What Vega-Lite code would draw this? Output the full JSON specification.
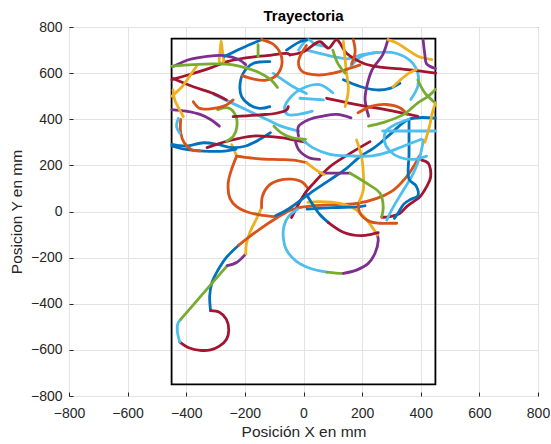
{
"$schema": "https://vega.github.io/schema/vega-lite/v6.json",
"width": 469, "height": 369,
"autosize": {"type": "none"},
"padding": {"left": 69, "top": 27, "right": 13, "bottom": 48},
"background": "white",
"title": {"text": "Trayectoria", "fontSize": 15, "fontWeight": "bold", "font": "Liberation Sans", "color": "#000000", "offset": -4},
"config": {
  "view": {"stroke": "#262626", "strokeWidth": 1},
  "axis": {"grid": true, "gridColor": "#e3e3e3", "domain": false, "tickColor": "#262626", "tickSize": -4,
    "labelFont": "Liberation Sans", "labelFontSize": 14, "labelColor": "#262626", "labelFlush": false, "labelOverlap": false,
    "titleFont": "Liberation Sans", "titleFontSize": 15.5, "titleFontWeight": "normal", "titleColor": "#262626"},
  "axisX": {"labelPadding": 14, "titlePadding": 4},
  "axisY": {"labelPadding": 11, "titlePadding": 6}
},
"layer": [
{
 "data": {"values": [{"x1": -450, "x2": 450, "y1": -750, "y2": 750}]},
 "mark": {"type": "rect", "fillOpacity": 0, "stroke": "#000000", "strokeWidth": 1.8},
 "encoding": {
  "x": {"field": "x1", "type": "quantitative", "scale": {"domain": [-800, 800], "nice": false},
        "axis": {"values": [-800,-600,-400,-200,0,200,400,600,800], "title": "Posición X en mm"}},
  "x2": {"field": "x2"},
  "y": {"field": "y1", "type": "quantitative", "scale": {"domain": [-800, 800], "nice": false},
        "axis": {"values": [-800,-600,-400,-200,0,200,400,600,800], "title": "Posicion Y en mm"}},
  "y2": {"field": "y2"}
 }
},
{
 "data": {"values": [
{"s":1,"k":1,"i":0,"x":-317,"y":-430},{"s":1,"k":1,"i":1,"x":-320,"y":-365},{"s":1,"k":1,"i":2,"x":-312,"y":-307},{"s":1,"k":1,"i":3,"x":-293,"y":-257},{"s":1,"k":1,"i":4,"x":-263,"y":-199},{"s":1,"k":1,"i":5,"x":-221,"y":-146},
{"s":2,"k":7,"i":0,"x":-317,"y":-430},{"s":2,"k":7,"i":1,"x":-287,"y":-437},{"s":2,"k":7,"i":2,"x":-263,"y":-468},{"s":2,"k":7,"i":3,"x":-255,"y":-516},{"s":2,"k":7,"i":4,"x":-263,"y":-555},{"s":2,"k":7,"i":5,"x":-287,"y":-584},{"s":2,"k":7,"i":6,"x":-317,"y":-600},{"s":2,"k":7,"i":7,"x":-353,"y":-602},{"s":2,"k":7,"i":8,"x":-389,"y":-592},{"s":2,"k":7,"i":9,"x":-422,"y":-566},
{"s":3,"k":6,"i":0,"x":-422,"y":-566},{"s":3,"k":6,"i":1,"x":-430,"y":-523},{"s":3,"k":6,"i":2,"x":-429,"y":-487},{"s":3,"k":6,"i":3,"x":-419,"y":-468},
{"s":4,"k":5,"i":0,"x":-419,"y":-468},{"s":4,"k":5,"i":1,"x":-340,"y":-352},{"s":4,"k":5,"i":2,"x":-260,"y":-235},
{"s":5,"k":4,"i":0,"x":-260,"y":-235},{"s":5,"k":4,"i":1,"x":-227,"y":-220},{"s":5,"k":4,"i":2,"x":-197,"y":-184},
{"s":6,"k":3,"i":0,"x":-197,"y":-184},{"s":6,"k":3,"i":1,"x":-195,"y":-141},{"s":6,"k":3,"i":2,"x":-183,"y":-91},{"s":6,"k":3,"i":3,"x":-161,"y":-33},{"s":6,"k":3,"i":4,"x":-143,"y":17},
{"s":7,"k":2,"i":0,"x":-143,"y":17},{"s":7,"k":2,"i":1,"x":-140,"y":67},{"s":7,"k":2,"i":2,"x":-120,"y":111},{"s":7,"k":2,"i":3,"x":-84,"y":135},{"s":7,"k":2,"i":4,"x":-41,"y":140},{"s":7,"k":2,"i":5,"x":-5,"y":128},{"s":7,"k":2,"i":6,"x":13,"y":104},
{"s":8,"k":7,"i":0,"x":-41,"y":-26},{"s":8,"k":7,"i":1,"x":5,"y":79},{"s":8,"k":7,"i":2,"x":34,"y":122},{"s":8,"k":7,"i":3,"x":90,"y":194},{"s":8,"k":7,"i":4,"x":159,"y":252},{"s":8,"k":7,"i":5,"x":227,"y":303},
{"s":9,"k":2,"i":0,"x":-221,"y":-146},{"s":9,"k":2,"i":1,"x":-149,"y":-76},{"s":9,"k":2,"i":2,"x":-89,"y":-26},{"s":9,"k":2,"i":3,"x":-46,"y":5},{"s":9,"k":2,"i":4,"x":0,"y":20},{"s":9,"k":2,"i":5,"x":68,"y":28},{"s":9,"k":2,"i":6,"x":181,"y":35},{"s":9,"k":2,"i":7,"x":250,"y":57},{"s":9,"k":2,"i":8,"x":307,"y":93},{"s":9,"k":2,"i":9,"x":352,"y":151},{"s":9,"k":2,"i":10,"x":375,"y":194},{"s":9,"k":2,"i":11,"x":395,"y":240},
{"s":10,"k":1,"i":0,"x":-97,"y":-20},{"s":10,"k":1,"i":1,"x":-46,"y":15},{"s":10,"k":1,"i":2,"x":22,"y":79},{"s":10,"k":1,"i":3,"x":90,"y":137},{"s":10,"k":1,"i":4,"x":147,"y":187},{"s":10,"k":1,"i":5,"x":193,"y":238},{"s":10,"k":1,"i":6,"x":238,"y":274},{"s":10,"k":1,"i":7,"x":261,"y":296},{"s":10,"k":1,"i":8,"x":300,"y":340},{"s":10,"k":1,"i":9,"x":360,"y":400},{"s":10,"k":1,"i":10,"x":450,"y":405},
{"s":11,"k":6,"i":0,"x":-20,"y":10},{"s":11,"k":6,"i":1,"x":-50,"y":-20},{"s":11,"k":6,"i":2,"x":-66,"y":-60},{"s":11,"k":6,"i":3,"x":-69,"y":-109},{"s":11,"k":6,"i":4,"x":-58,"y":-167},{"s":11,"k":6,"i":5,"x":-23,"y":-217},{"s":11,"k":6,"i":6,"x":22,"y":-246},{"s":11,"k":6,"i":7,"x":79,"y":-263},
{"s":12,"k":5,"i":0,"x":79,"y":-263},{"s":12,"k":5,"i":1,"x":110,"y":-267},{"s":12,"k":5,"i":2,"x":136,"y":-268},
{"s":13,"k":4,"i":0,"x":136,"y":-268},{"s":13,"k":4,"i":1,"x":181,"y":-254},{"s":13,"k":4,"i":2,"x":221,"y":-225},{"s":13,"k":4,"i":3,"x":244,"y":-181},{"s":13,"k":4,"i":4,"x":255,"y":-124},{"s":13,"k":4,"i":5,"x":252,"y":-102},
{"s":14,"k":3,"i":0,"x":15,"y":40},{"s":14,"k":3,"i":1,"x":56,"y":43},{"s":14,"k":3,"i":2,"x":125,"y":35},{"s":14,"k":3,"i":3,"x":181,"y":6},{"s":14,"k":3,"i":4,"x":216,"y":-37},{"s":14,"k":3,"i":5,"x":252,"y":-102},
{"s":15,"k":1,"i":0,"x":10,"y":75},{"s":15,"k":1,"i":1,"x":31,"y":31},{"s":15,"k":1,"i":2,"x":55,"y":-12},{"s":15,"k":1,"i":3,"x":85,"y":-48},
{"s":16,"k":7,"i":0,"x":85,"y":-48},{"s":16,"k":7,"i":1,"x":138,"y":-91},{"s":16,"k":7,"i":2,"x":198,"y":-105},{"s":16,"k":7,"i":3,"x":234,"y":-98},{"s":16,"k":7,"i":4,"x":255,"y":-92},
{"s":17,"k":1,"i":0,"x":12,"y":10},{"s":17,"k":1,"i":1,"x":100,"y":17},{"s":17,"k":1,"i":2,"x":193,"y":21},{"s":17,"k":1,"i":3,"x":210,"y":25},
{"s":18,"k":3,"i":0,"x":181,"y":310},{"s":18,"k":3,"i":1,"x":198,"y":238},{"s":18,"k":3,"i":2,"x":204,"y":166},{"s":18,"k":3,"i":3,"x":204,"y":93},{"s":18,"k":3,"i":4,"x":187,"y":35},
{"s":19,"k":2,"i":0,"x":187,"y":35},{"s":19,"k":2,"i":1,"x":193,"y":-8},{"s":19,"k":2,"i":2,"x":227,"y":-44},{"s":19,"k":2,"i":3,"x":261,"y":-51},{"s":19,"k":2,"i":4,"x":295,"y":-51},{"s":19,"k":2,"i":5,"x":318,"y":-51},
{"s":20,"k":7,"i":0,"x":403,"y":223},{"s":20,"k":7,"i":1,"x":426,"y":209},{"s":20,"k":7,"i":2,"x":434,"y":151},{"s":20,"k":7,"i":3,"x":420,"y":108},{"s":20,"k":7,"i":4,"x":397,"y":64},{"s":20,"k":7,"i":5,"x":375,"y":43},{"s":20,"k":7,"i":6,"x":352,"y":21},{"s":20,"k":7,"i":7,"x":329,"y":-8},{"s":20,"k":7,"i":8,"x":295,"y":-22},{"s":20,"k":7,"i":9,"x":267,"y":-25},
{"s":21,"k":6,"i":0,"x":409,"y":310},{"s":21,"k":6,"i":1,"x":397,"y":238},{"s":21,"k":6,"i":2,"x":375,"y":166},{"s":21,"k":6,"i":3,"x":341,"y":93},{"s":21,"k":6,"i":4,"x":307,"y":21},{"s":21,"k":6,"i":5,"x":284,"y":-37},
{"s":22,"k":4,"i":0,"x":56,"y":166},{"s":22,"k":4,"i":1,"x":159,"y":166},
{"s":23,"k":5,"i":0,"x":159,"y":166},{"s":23,"k":5,"i":1,"x":216,"y":122},{"s":23,"k":5,"i":2,"x":261,"y":79},{"s":23,"k":5,"i":3,"x":272,"y":21},{"s":23,"k":5,"i":4,"x":267,"y":-22},
{"s":24,"k":1,"i":0,"x":360,"y":399},{"s":24,"k":1,"i":1,"x":360,"y":250},{"s":24,"k":1,"i":2,"x":360,"y":140},{"s":24,"k":1,"i":3,"x":384,"y":111},{"s":24,"k":1,"i":4,"x":390,"y":68},{"s":24,"k":1,"i":5,"x":366,"y":53},{"s":24,"k":1,"i":6,"x":342,"y":32},{"s":24,"k":1,"i":7,"x":324,"y":-4},{"s":24,"k":1,"i":8,"x":310,"y":-30},
{"s":25,"k":3,"i":0,"x":-245,"y":290},{"s":25,"k":3,"i":1,"x":-235,"y":262},{"s":25,"k":3,"i":2,"x":-228,"y":240},
{"s":26,"k":2,"i":0,"x":-228,"y":240},{"s":26,"k":2,"i":1,"x":-246,"y":180},{"s":26,"k":2,"i":2,"x":-257,"y":122},{"s":26,"k":2,"i":3,"x":-251,"y":57},{"s":26,"k":2,"i":4,"x":-228,"y":21},{"s":26,"k":2,"i":5,"x":-194,"y":-1},{"s":26,"k":2,"i":6,"x":-149,"y":-15},{"s":26,"k":2,"i":7,"x":-103,"y":-22},
{"s":27,"k":2,"i":0,"x":-228,"y":240},{"s":27,"k":2,"i":1,"x":-180,"y":232},{"s":27,"k":2,"i":2,"x":-149,"y":228},{"s":27,"k":2,"i":3,"x":-80,"y":225},{"s":27,"k":2,"i":4,"x":-35,"y":223},{"s":27,"k":2,"i":5,"x":10,"y":212},
{"s":28,"k":3,"i":0,"x":10,"y":212},{"s":28,"k":3,"i":1,"x":48,"y":176},{"s":28,"k":3,"i":2,"x":70,"y":160},
{"s":29,"k":1,"i":0,"x":-449,"y":291},{"s":29,"k":1,"i":1,"x":-401,"y":284},{"s":29,"k":1,"i":2,"x":-341,"y":298},{"s":29,"k":1,"i":3,"x":-293,"y":291},{"s":29,"k":1,"i":4,"x":-245,"y":277},{"s":29,"k":1,"i":5,"x":-197,"y":284},{"s":29,"k":1,"i":6,"x":-149,"y":313},{"s":29,"k":1,"i":7,"x":-113,"y":342},
{"s":30,"k":1,"i":0,"x":-449,"y":284},{"s":30,"k":1,"i":1,"x":-401,"y":269},{"s":30,"k":1,"i":2,"x":-341,"y":262},{"s":30,"k":1,"i":3,"x":-269,"y":262},{"s":30,"k":1,"i":4,"x":-230,"y":270},
{"s":31,"k":7,"i":0,"x":-329,"y":277},{"s":31,"k":7,"i":1,"x":-257,"y":306},{"s":31,"k":7,"i":2,"x":-173,"y":327},{"s":31,"k":7,"i":3,"x":-77,"y":320},{"s":31,"k":7,"i":4,"x":-17,"y":306},{"s":31,"k":7,"i":5,"x":7,"y":301},
{"s":32,"k":2,"i":0,"x":-419,"y":399},{"s":32,"k":2,"i":1,"x":-419,"y":342},{"s":32,"k":2,"i":2,"x":-407,"y":298},{"s":32,"k":2,"i":3,"x":-383,"y":269},{"s":32,"k":2,"i":4,"x":-353,"y":262},
{"s":33,"k":5,"i":0,"x":-293,"y":442},{"s":33,"k":5,"i":1,"x":-257,"y":449},{"s":33,"k":5,"i":2,"x":-233,"y":420},{"s":33,"k":5,"i":3,"x":-227,"y":370},{"s":33,"k":5,"i":4,"x":-239,"y":327},{"s":33,"k":5,"i":5,"x":-263,"y":305},
{"s":34,"k":4,"i":0,"x":-449,"y":442},{"s":34,"k":4,"i":1,"x":-401,"y":435},{"s":34,"k":4,"i":2,"x":-353,"y":421},{"s":34,"k":4,"i":3,"x":-317,"y":399},{"s":34,"k":4,"i":4,"x":-287,"y":370},
{"s":35,"k":6,"i":0,"x":-305,"y":507},{"s":35,"k":6,"i":1,"x":-245,"y":471},{"s":35,"k":6,"i":2,"x":-197,"y":442},{"s":35,"k":6,"i":3,"x":-125,"y":399},{"s":35,"k":6,"i":4,"x":-77,"y":370},{"s":35,"k":6,"i":5,"x":-17,"y":349},
{"s":36,"k":2,"i":0,"x":-376,"y":476},{"s":36,"k":2,"i":1,"x":-354,"y":447},{"s":36,"k":2,"i":2,"x":-308,"y":447},{"s":36,"k":2,"i":3,"x":-263,"y":462},{"s":36,"k":2,"i":4,"x":-240,"y":484},
{"s":37,"k":4,"i":0,"x":-17,"y":327},{"s":37,"k":4,"i":1,"x":-17,"y":369},{"s":37,"k":4,"i":2,"x":19,"y":399},{"s":37,"k":4,"i":3,"x":67,"y":414},{"s":37,"k":4,"i":4,"x":114,"y":421},{"s":37,"k":4,"i":5,"x":162,"y":406},
{"s":38,"k":4,"i":0,"x":-29,"y":313},{"s":38,"k":4,"i":1,"x":-17,"y":269},{"s":38,"k":4,"i":2,"x":19,"y":233},{"s":38,"k":4,"i":3,"x":55,"y":226},
{"s":39,"k":6,"i":0,"x":-5,"y":313},{"s":39,"k":6,"i":1,"x":31,"y":277},{"s":39,"k":6,"i":2,"x":90,"y":248},{"s":39,"k":6,"i":3,"x":162,"y":241},{"s":39,"k":6,"i":4,"x":234,"y":241},{"s":39,"k":6,"i":5,"x":282,"y":255},{"s":39,"k":6,"i":6,"x":342,"y":284},{"s":39,"k":6,"i":7,"x":402,"y":313},
{"s":40,"k":5,"i":0,"x":-101,"y":370},{"s":40,"k":5,"i":1,"x":-77,"y":342},{"s":40,"k":5,"i":2,"x":-41,"y":320},{"s":40,"k":5,"i":3,"x":7,"y":313},
{"s":41,"k":6,"i":0,"x":100,"y":515},{"s":41,"k":6,"i":1,"x":55,"y":550},{"s":41,"k":6,"i":2,"x":7,"y":540},{"s":41,"k":6,"i":3,"x":-41,"y":500},{"s":41,"k":6,"i":4,"x":-65,"y":445},{"s":41,"k":6,"i":5,"x":-53,"y":420},{"s":41,"k":6,"i":6,"x":-17,"y":421},{"s":41,"k":6,"i":7,"x":30,"y":435},
{"s":42,"k":6,"i":0,"x":-17,"y":700},{"s":42,"k":6,"i":1,"x":0,"y":730},{"s":42,"k":6,"i":2,"x":17,"y":745},{"s":42,"k":6,"i":3,"x":40,"y":725},{"s":42,"k":6,"i":4,"x":78,"y":716},
{"s":43,"k":6,"i":0,"x":11,"y":700},{"s":43,"k":6,"i":1,"x":102,"y":672},{"s":43,"k":6,"i":2,"x":150,"y":662},{"s":43,"k":6,"i":3,"x":200,"y":680},{"s":43,"k":6,"i":4,"x":258,"y":690},
{"s":44,"k":6,"i":0,"x":162,"y":630},{"s":44,"k":6,"i":1,"x":198,"y":673},{"s":44,"k":6,"i":2,"x":258,"y":690},{"s":44,"k":6,"i":3,"x":318,"y":685},{"s":44,"k":6,"i":4,"x":366,"y":651},{"s":44,"k":6,"i":5,"x":390,"y":601},{"s":44,"k":6,"i":6,"x":390,"y":543},{"s":44,"k":6,"i":7,"x":366,"y":486},
{"s":45,"k":1,"i":0,"x":136,"y":571},{"s":45,"k":1,"i":1,"x":193,"y":542},{"s":45,"k":1,"i":2,"x":250,"y":527},{"s":45,"k":1,"i":3,"x":295,"y":534},{"s":45,"k":1,"i":4,"x":329,"y":556},
{"s":46,"k":4,"i":0,"x":288,"y":745},{"s":46,"k":4,"i":1,"x":270,"y":679},{"s":46,"k":4,"i":2,"x":234,"y":614},{"s":46,"k":4,"i":3,"x":216,"y":542},{"s":46,"k":4,"i":4,"x":210,"y":485},{"s":46,"k":4,"i":5,"x":222,"y":413},
{"s":47,"k":3,"i":0,"x":288,"y":745},{"s":47,"k":3,"i":1,"x":318,"y":731},{"s":47,"k":3,"i":2,"x":354,"y":702},{"s":47,"k":3,"i":3,"x":390,"y":673},{"s":47,"k":3,"i":4,"x":438,"y":659},
{"s":48,"k":4,"i":0,"x":408,"y":745},{"s":48,"k":4,"i":1,"x":414,"y":680},{"s":48,"k":4,"i":2,"x":420,"y":640},{"s":48,"k":4,"i":3,"x":450,"y":620},
{"s":49,"k":7,"i":0,"x":-46,"y":679},{"s":49,"k":7,"i":1,"x":0,"y":693},{"s":49,"k":7,"i":2,"x":56,"y":736},{"s":49,"k":7,"i":3,"x":85,"y":708},{"s":49,"k":7,"i":4,"x":113,"y":744},{"s":49,"k":7,"i":5,"x":147,"y":686},{"s":49,"k":7,"i":6,"x":204,"y":643},{"s":49,"k":7,"i":7,"x":250,"y":628},{"s":49,"k":7,"i":8,"x":363,"y":614},{"s":49,"k":7,"i":9,"x":451,"y":600},
{"s":50,"k":7,"i":0,"x":-449,"y":572},{"s":50,"k":7,"i":1,"x":-389,"y":594},{"s":50,"k":7,"i":2,"x":-317,"y":623},{"s":50,"k":7,"i":3,"x":-257,"y":651},{"s":50,"k":7,"i":4,"x":-197,"y":666},{"s":50,"k":7,"i":5,"x":-125,"y":676},{"s":50,"k":7,"i":6,"x":-53,"y":685},{"s":50,"k":7,"i":7,"x":-46,"y":679},
{"s":51,"k":7,"i":0,"x":-445,"y":577},{"s":51,"k":7,"i":1,"x":-376,"y":541},{"s":51,"k":7,"i":2,"x":-308,"y":512},{"s":51,"k":7,"i":3,"x":-263,"y":484},
{"s":52,"k":7,"i":0,"x":79,"y":491},{"s":52,"k":7,"i":1,"x":159,"y":469},{"s":52,"k":7,"i":2,"x":215,"y":455},{"s":52,"k":7,"i":3,"x":284,"y":441},{"s":52,"k":7,"i":4,"x":390,"y":413},
{"s":53,"k":2,"i":0,"x":186,"y":428},{"s":53,"k":2,"i":1,"x":234,"y":457},{"s":53,"k":2,"i":2,"x":282,"y":464},{"s":53,"k":2,"i":3,"x":330,"y":449},{"s":53,"k":2,"i":4,"x":354,"y":421},
{"s":54,"k":5,"i":0,"x":222,"y":370},{"s":54,"k":5,"i":1,"x":270,"y":385},{"s":54,"k":5,"i":2,"x":342,"y":421},{"s":54,"k":5,"i":3,"x":390,"y":471},{"s":54,"k":5,"i":4,"x":426,"y":500},{"s":54,"k":5,"i":5,"x":450,"y":529},
{"s":55,"k":6,"i":0,"x":270,"y":349},{"s":55,"k":6,"i":1,"x":450,"y":349},
{"s":56,"k":6,"i":0,"x":360,"y":400},{"s":56,"k":6,"i":1,"x":318,"y":380},{"s":56,"k":6,"i":2,"x":282,"y":349},{"s":56,"k":6,"i":3,"x":276,"y":306},{"s":56,"k":6,"i":4,"x":294,"y":263},{"s":56,"k":6,"i":5,"x":330,"y":234},{"s":56,"k":6,"i":6,"x":378,"y":226},{"s":56,"k":6,"i":7,"x":420,"y":240},
{"s":57,"k":3,"i":0,"x":-449,"y":500},{"s":57,"k":3,"i":1,"x":-413,"y":543},{"s":57,"k":3,"i":2,"x":-389,"y":586},{"s":57,"k":3,"i":3,"x":-365,"y":630},
{"s":58,"k":7,"i":0,"x":-240,"y":411},{"s":58,"k":7,"i":1,"x":-149,"y":419},{"s":58,"k":7,"i":2,"x":-92,"y":426},{"s":58,"k":7,"i":3,"x":-58,"y":440},{"s":58,"k":7,"i":4,"x":-52,"y":455},
{"s":59,"k":1,"i":0,"x":-115,"y":650},{"s":59,"k":1,"i":1,"x":-172,"y":642},{"s":59,"k":1,"i":2,"x":-206,"y":599},{"s":59,"k":1,"i":3,"x":-217,"y":541},{"s":59,"k":1,"i":4,"x":-211,"y":498},{"s":59,"k":1,"i":5,"x":-183,"y":462},{"s":59,"k":1,"i":6,"x":-149,"y":447},{"s":59,"k":1,"i":7,"x":-115,"y":455},
{"s":60,"k":1,"i":0,"x":-58,"y":700},{"s":60,"k":1,"i":1,"x":-12,"y":736},{"s":60,"k":1,"i":2,"x":11,"y":744},
{"s":61,"k":6,"i":0,"x":-103,"y":599},{"s":61,"k":6,"i":1,"x":-69,"y":570},{"s":61,"k":6,"i":2,"x":-35,"y":541},{"s":61,"k":6,"i":3,"x":10,"y":512},
{"s":62,"k":3,"i":0,"x":-281,"y":738},{"s":62,"k":3,"i":1,"x":-285,"y":690},{"s":62,"k":3,"i":2,"x":-287,"y":650},{"s":62,"k":3,"i":3,"x":-280,"y":642},{"s":62,"k":3,"i":4,"x":-273,"y":650},{"s":62,"k":3,"i":5,"x":-276,"y":690},{"s":62,"k":3,"i":6,"x":-281,"y":738},
{"s":63,"k":4,"i":0,"x":-443,"y":630},{"s":63,"k":4,"i":1,"x":-389,"y":659},{"s":63,"k":4,"i":2,"x":-329,"y":673},{"s":63,"k":4,"i":3,"x":-269,"y":676},{"s":63,"k":4,"i":4,"x":-221,"y":659},{"s":63,"k":4,"i":5,"x":-197,"y":637},
{"s":64,"k":1,"i":0,"x":-269,"y":673},{"s":64,"k":1,"i":1,"x":-221,"y":702},{"s":64,"k":1,"i":2,"x":-185,"y":723},{"s":64,"k":1,"i":3,"x":-143,"y":745},
{"s":65,"k":2,"i":0,"x":-143,"y":745},{"s":65,"k":2,"i":1,"x":-101,"y":723},{"s":65,"k":2,"i":2,"x":-77,"y":680},{"s":65,"k":2,"i":3,"x":-75,"y":630},{"s":65,"k":2,"i":4,"x":-95,"y":587},{"s":65,"k":2,"i":5,"x":-131,"y":569},{"s":65,"k":2,"i":6,"x":-173,"y":575},{"s":65,"k":2,"i":7,"x":-209,"y":589},
{"s":66,"k":5,"i":0,"x":-155,"y":723},{"s":66,"k":5,"i":1,"x":-155,"y":673},
{"s":67,"k":5,"i":0,"x":-449,"y":630},{"s":67,"k":5,"i":1,"x":-377,"y":637},{"s":67,"k":5,"i":2,"x":-305,"y":640},{"s":67,"k":5,"i":3,"x":-245,"y":637},{"s":67,"k":5,"i":4,"x":-197,"y":623},{"s":67,"k":5,"i":5,"x":-149,"y":601},{"s":67,"k":5,"i":6,"x":-113,"y":573},{"s":67,"k":5,"i":7,"x":-89,"y":538},
{"s":68,"k":3,"i":0,"x":136,"y":738},{"s":68,"k":3,"i":1,"x":142,"y":657},{"s":68,"k":3,"i":2,"x":147,"y":600},{"s":68,"k":3,"i":3,"x":153,"y":527},{"s":68,"k":3,"i":4,"x":142,"y":455},
{"s":69,"k":2,"i":0,"x":10,"y":720},{"s":69,"k":2,"i":1,"x":-17,"y":651},{"s":69,"k":2,"i":2,"x":-5,"y":608},{"s":69,"k":2,"i":3,"x":45,"y":592},{"s":69,"k":2,"i":4,"x":102,"y":600},{"s":69,"k":2,"i":5,"x":159,"y":621},{"s":69,"k":2,"i":6,"x":193,"y":636},
{"s":70,"k":2,"i":0,"x":170,"y":745},{"s":70,"k":2,"i":1,"x":176,"y":690},{"s":70,"k":2,"i":2,"x":164,"y":640},
{"s":71,"k":5,"i":0,"x":390,"y":570},{"s":71,"k":5,"i":1,"x":414,"y":514},{"s":71,"k":5,"i":2,"x":450,"y":470},
{"s":72,"k":3,"i":0,"x":414,"y":300},{"s":72,"k":3,"i":1,"x":430,"y":370},{"s":72,"k":3,"i":2,"x":440,"y":430},{"s":72,"k":3,"i":3,"x":450,"y":470},
{"s":73,"k":3,"i":0,"x":-445,"y":527},{"s":73,"k":3,"i":1,"x":-439,"y":483},{"s":73,"k":3,"i":2,"x":-422,"y":440},{"s":73,"k":3,"i":3,"x":-410,"y":411},
{"s":74,"k":6,"i":0,"x":-427,"y":404},{"s":74,"k":6,"i":1,"x":-433,"y":368},{"s":74,"k":6,"i":2,"x":-422,"y":339},
{"s":75,"k":6,"i":0,"x":-12,"y":491},{"s":75,"k":6,"i":1,"x":68,"y":484},
{"s":76,"k":5,"i":0,"x":100,"y":700},{"s":76,"k":5,"i":1,"x":118,"y":640},{"s":76,"k":5,"i":2,"x":142,"y":600},
{"s":77,"k":3,"i":0,"x":305,"y":540},{"s":77,"k":3,"i":1,"x":330,"y":570},{"s":77,"k":3,"i":2,"x":360,"y":600},{"s":77,"k":3,"i":3,"x":385,"y":615}
 ]},
 "mark": {"type": "line", "interpolate": "catmull-rom", "strokeWidth": 2.8, "strokeCap": "round", "strokeJoin": "round"},
 "encoding": {
  "x": {"field": "x", "type": "quantitative"},
  "y": {"field": "y", "type": "quantitative"},
  "detail": {"field": "s", "type": "nominal"},
  "order": {"field": "i", "type": "quantitative"},
  "color": {"field": "k", "type": "nominal", "legend": null,
    "scale": {"domain": [1,2,3,4,5,6,7], "range": ["#0072BD","#D95319","#EDB120","#7E2F8E","#77AC30","#4DBEEE","#A2142F"]}}
 }
}
]
}
